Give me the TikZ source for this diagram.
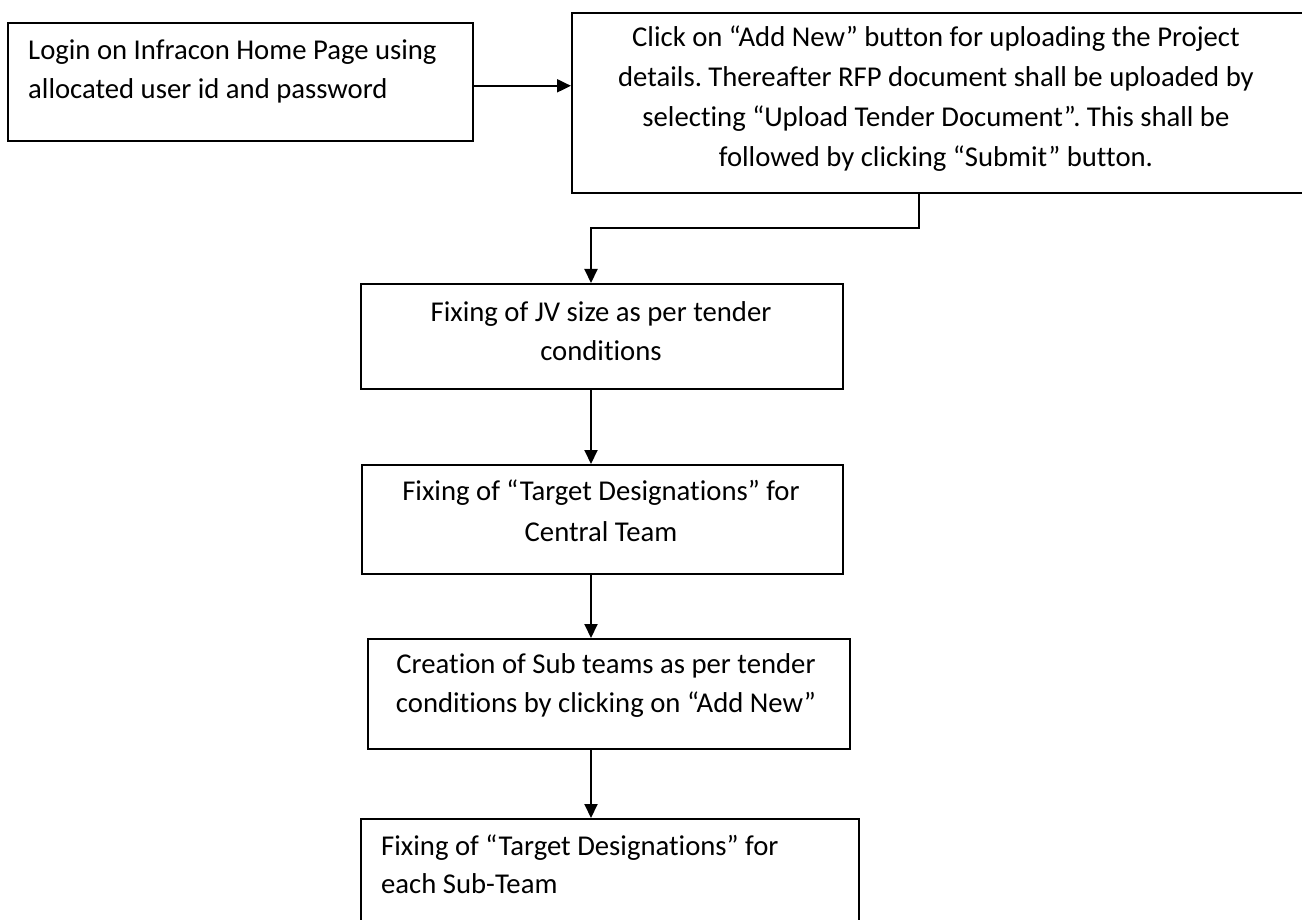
\documentclass[tikz,border=0pt]{standalone}
\usepackage{fontspec}
\setmainfont{Carlito}[Ligatures=NoCommon]
\usetikzlibrary{arrows.meta}
\frenchspacing
\begin{document}
\begin{tikzpicture}[x=1pt,y=-1pt,
  box/.style={draw=black, line width=1.6pt, rectangle, inner sep=0pt, anchor=north west},
  txt/.style={inner sep=0pt, font=\fontsize{28.7}{40}\selectfont},
  conn/.style={line width=2pt, -{Triangle[length=14pt,width=13pt]}}]
\useasboundingbox (0,0) rectangle (1302,920);
\clip (0,0) rectangle (1302,920);
% boxes
\node[box, minimum width=465pt, minimum height=118pt] (b1) at (7,22) {};
\node[box, minimum width=760pt, minimum height=180pt] (b2) at (571,12) {};
\node[box, minimum width=482pt, minimum height=105pt] (b3) at (360,283) {};
\node[box, minimum width=481pt, minimum height=109pt] (b4) at (361,464) {};
\node[box, minimum width=482pt, minimum height=110pt] (b5) at (367,638) {};
\node[box, minimum width=498pt, minimum height=130pt] (b6) at (360,818) {};
% texts
\node[txt, anchor=base west] (t1a) at (28,60) {Login on Infracon Home Page using};
\node[txt, anchor=base west] (t1b) at (28,99) {allocated user id and password};
\node[txt, anchor=base] (t2a) at (936,47) {Click on “Add New” button for uploading the Project};
\node[txt, anchor=base] (t2b) at (936,87) {details. Thereafter RFP document shall be uploaded by};
\node[txt, anchor=base] (t2c) at (936,127) {selecting “Upload Tender Document”. This shall be};
\node[txt, anchor=base] (t2d) at (936,167) {followed by clicking “Submit” button.};
\node[txt, anchor=base] (t3a) at (601,322) {Fixing of JV size as per tender};
\node[txt, anchor=base] (t3b) at (601,360) {conditions};
\node[txt, anchor=base] (t4a) at (601,500) {Fixing of “Target Designations” for};
\node[txt, anchor=base] (t4b) at (601,541) {Central Team};
\node[txt, anchor=base] (t5a) at (606,673) {Creation of Sub teams as per tender};
\node[txt, anchor=base] (t5b) at (606,712) {conditions by clicking on “Add New”};
\node[txt, anchor=base west] (t6a) at (381,855) {Fixing of “Target Designations” for};
\node[txt, anchor=base west] (t6b) at (381,893) {each Sub-Team};
% connectors
\draw[conn] ([yshift=-4pt]b1.east) -- ([yshift=-4pt]b1.east -| b2.west);
\draw[conn] ([xshift=348pt]b2.south west) -- ++(0,34) -| ([xshift=231pt]b3.north west);
\draw[conn] ([xshift=231pt]b3.south west) -- ([xshift=230pt]b4.north west);
\draw[conn] ([xshift=230pt]b4.south west) -- ([xshift=224pt]b5.north west);
\draw[conn] ([xshift=224pt]b5.south west) -- ([xshift=231pt]b6.north west);
\end{tikzpicture}
\end{document}
